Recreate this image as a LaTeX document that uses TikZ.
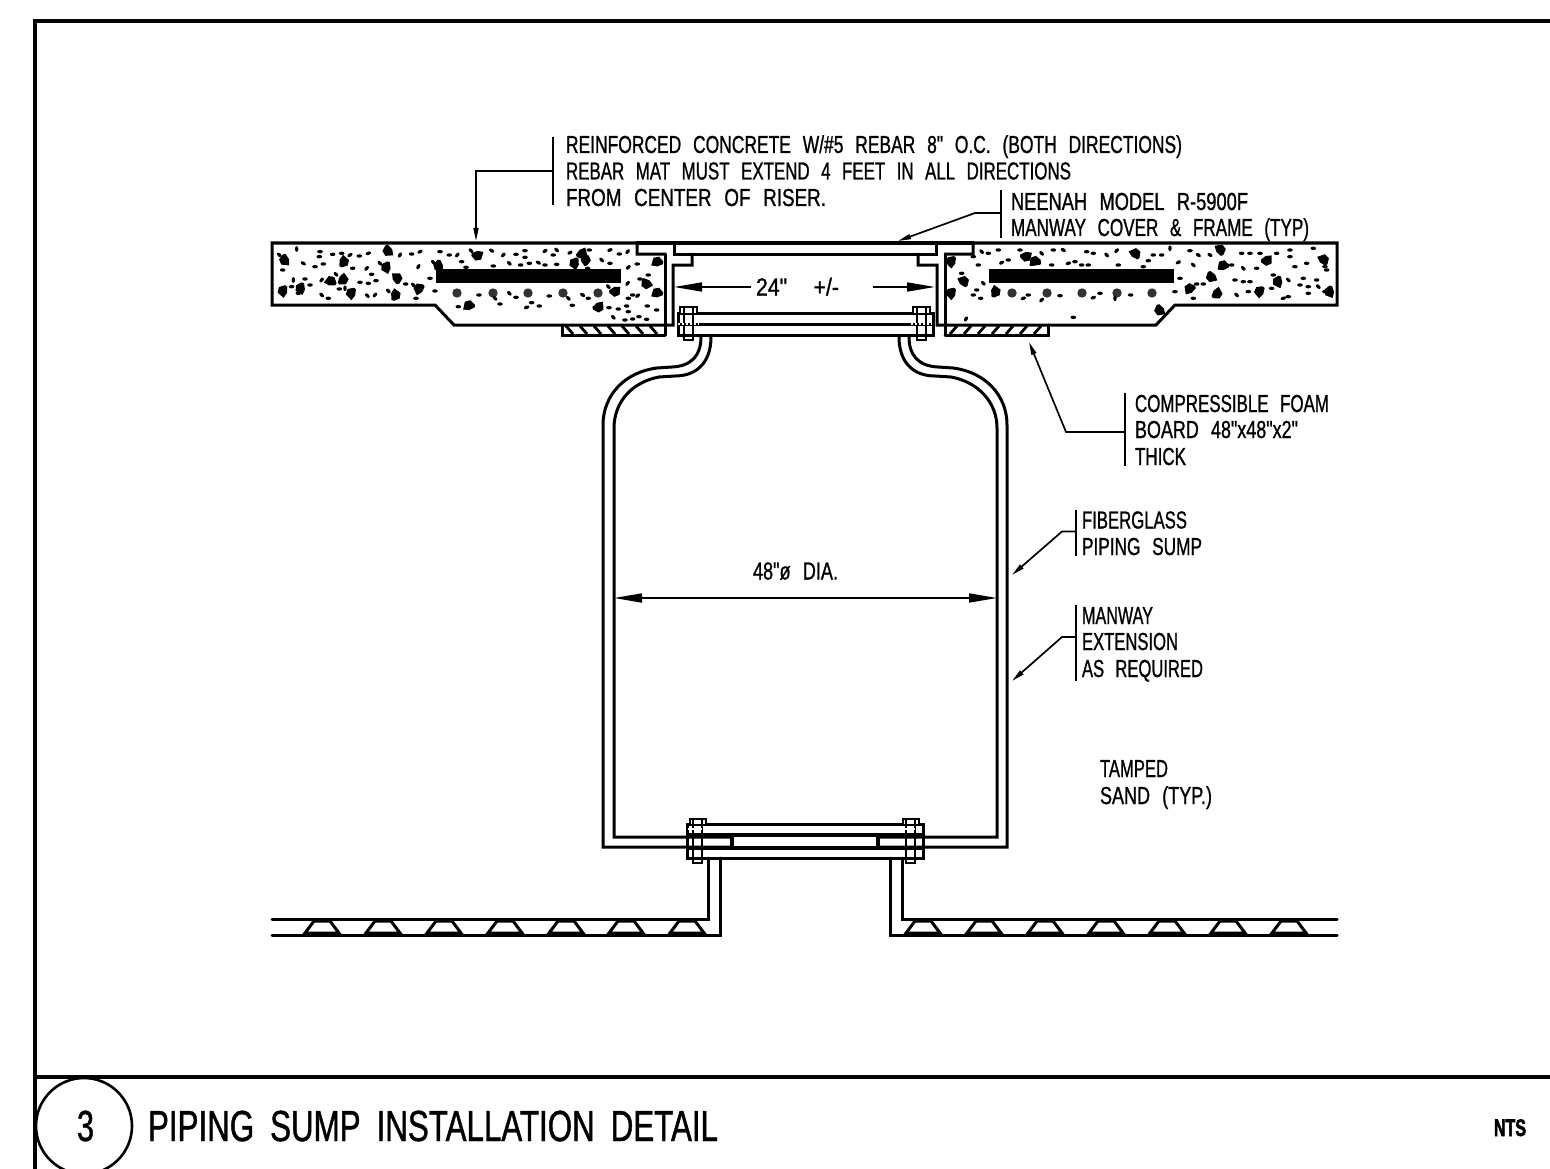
\documentclass[tikz,border=0pt]{standalone}
\usepackage{graphicx}
\usepackage{fontspec}
\usetikzlibrary{arrows.meta}
\newfontfamily\cadfont[FakeStretch=0.72,FakeBold=0.9]{Liberation Sans}
\newfontfamily\cadbigfont[FakeStretch=0.72,FakeBold=1.0]{Liberation Sans}
\newfontfamily\cadbold[FakeStretch=0.72,FakeBold=2.2]{Liberation Sans Bold}
\newcommand{\cad}[2]{\resizebox{#1pt}{\height}{\cadfont\fontsize{24.6}{25}\selectfont\spaceskip=12pt\relax #2}}
\newcommand{\cadbig}[2]{\resizebox{#1pt}{\height}{\cadbigfont\fontsize{43.5}{44}\selectfont\spaceskip=16pt\relax #2}}
\tikzset{
  cadtext/.style={anchor=base west,inner sep=0pt,outer sep=0pt},
  outl/.style={line width=3pt,line join=miter,line cap=round},
  thinl/.style={line width=1.7pt,line join=miter},
  frameline/.style={line width=4pt},
  barline/.style={line width=2.2pt},
  dimtip/.style={-{Triangle[length=28pt,width=9pt]},line width=1.7pt},
  leadtip/.style={-{Triangle[length=13pt,width=5pt]},line width=1.7pt},
}
% aggregate
\newcommand{\blobs}[1]{\foreach \x/\y/\a in {#1}{\fill[shift={(\x,\y)},rotate=\a] (0,0) ellipse [x radius=8.5,y radius=5.2];}}
\newcommand{\rocks}[1]{\foreach \x/\y in {#1}{\fill[shift={(\x,\y)},rotate=\x*7,scale=1.25,line join=round] (-13,-10) -- (6,-13) -- (14,-2) -- (8,12) -- (2,14) -- (-9,4) -- cycle;}}
\begin{document}
\begin{tikzpicture}[x=1pt,y=-1pt]
\useasboundingbox (0,0) rectangle (1550,1169);
\fill[white] (0,0) rectangle (1550,1169);
\clip (0,0) rectangle (1550,1169);

% frame
\draw[frameline] (1550,21) -- (35,21) -- (35,1169);
\draw[frameline] (35,1077) -- (1550,1077);
\draw[line width=2.6pt] (84,1126) circle [radius=48];

% slabs
\draw[outl] (665,254) -- (637,254) -- (637,243) -- (272,243) -- (272,305) -- (435,305) -- (454,325) -- (673,325) -- (673,265) -- (692,265) -- (692,254);
\draw[outl] (665,254) -- (665,335);
\draw[outl] (945,254) -- (973,254) -- (973,243) -- (1337,243) -- (1337,305) -- (1175,305) -- (1156,325) -- (937,325) -- (937,265) -- (918,265) -- (918,254);
\draw[outl] (945,254) -- (945,335);
% cover
\draw[outl] (637,243) -- (973,243);
\draw[outl] (674,243) -- (674,254) -- (936,254) -- (936,243);

% foam
\draw[outl] (665,335) -- (562,335) -- (562,325);
\draw[outl] (945,335) -- (1048,335) -- (1048,325);
\foreach \hx in {566,580,594,608,622,636,650}{\draw[line width=2.8pt] (\hx,326) -- (\hx+7,334);}
\foreach \hx in {950,964,978,992,1006,1020,1034}{\draw[line width=2.8pt] (\hx+7,326) -- (\hx,334);}

% rebar
\fill (436,269) rectangle (621,283);
\fill (989,269) rectangle (1174,283);
\foreach \cx in {457,493,528,563,598,1012,1047,1082,1117,1152}{\fill[black!80] (\cx,293) circle [radius=4.7];}

% aggregate, left slab
\begin{scope}[shift={(260,230)},x=0.3333pt,y=-0.3333pt]
\rocks{75/90,250/95,385/62,380/112,410/145,212/155,248/148,275/190,70/183,123/175,405/195,478/177,652/75,945/100,975/90,965/70,1192/97,1160/160,1192/190,1065/183,1015/230,627/228,537/107}
\blobs{110/57/90,58/75/-45,130/100/-30,68/120/0,165/110/0,190/102/0,180/65/0,178/80/0,218/73/0,245/70/0,270/75/30,298/78/0,325/70/20,360/100/-45,420/75/60,455/72/0,480/65/30,475/110/60,320/115/50,278/115/0,335/133/0,100/150/90,135/147/0,150/165/0,95/170/0,115/190/0,185/150/50,228/133/-45,300/157/0,325/160/0,348/152/0,437/162/0,460/165/-45,238/177/0,255/175/90,322/197/-45,345/195/50,205/205/0,185/195/-45,385/183/-45,468/205/0,510/145/0,525/183/0,520/97/-45,540/65/0,568/75/0,592/75/50,605/95/0,618/112/0,633/62/-45,695/62/-30,700/108/0,730/75/45,768/73/0,795/62/0,795/82/0,748/100/-45,782/105/0,808/100/0,835/98/-30,855/105/0,890/103/0,855/63/30,890/60/-45,880/75/0,930/68/30,988/60/0,1025/90/-45,1050/100/0,1050/60/20,1078/72/0,1103/65/50,1105/112/45,1132/102/0,1165/135/0,1140/147/0,1103/160/50,1118/195/0,1133/197/40,1105/205/0,1045/170/-45,657/195/0,705/205/-45,720/222/0,748/190/-45,768/202/0,868/198/0,925/205/-45,937/226/0,968/195/-30,985/205/0,595/230/0,800/232/20,815/218/0,838/228/0,1047/233/0,1075/237/0,1100/228/0,1105/245/0,1060/262/-45,1095/270/0,1118/267/0,1137/260/0,1160/268/0,1162/228/0,1190/240/0,983/115/0}
\end{scope}
% aggregate, right slab
\begin{scope}[shift={(860,230)},x=0.3333pt,y=-0.3333pt]
\rocks{275/95,310/155,275/190,405/185,498/78,525/95,825/72,1080/60,1220/90,1055/140,1255/155,1090/108,1390/90,990/177,1070/190,1200/185,1410/185,900/240}
\blobs{305/130/0,340/80/0,365/65/-45,385/70/0,415/60/0,355/105/0,370/160/-45,350/180/0,340/195/0,362/205/0,425/98/30,445/90/0,480/60/0,545/70/-45,580/60/0,610/60/-30,535/100/0,575/105/0,625/100/20,645/95/0,665/105/0,680/65/0,700/70/0,740/75/-45,770/62/45,685/105/0,775/105/0,850/110/0,865/92/0,880/75/0,905/75/0,930/55/90,955/97/30,990/62/0,1015/75/-30,1050/75/-30,1000/105/-45,960/145/0,945/185/0,1000/205/0,1010/162/0,1030/162/0,1115/105/0,1145/70/0,1170/70/0,1200/70/0,1250/70/0,1290/60/0,1290/80/0,1150/115/-45,1190/115/0,1125/150/0,1150/155/0,1170/155/0,1240/135/0,1285/150/-45,1330/145/0,1370/150/0,1320/165/0,1345/170/0,1375/170/-45,1345/190/0,1395/110/0,1400/120/0,1360/55/0,1130/195/-45,1165/185/0,1235/175/0,1270/205/20,1285/200/0,1305/110/0,1340/100/0,1395/185/0,490/205/20,505/195/0,545/210/45,600/197/0,700/203/20,720/190/0,765/205/90,812/195/0,640/262/0,318/267/60}
\end{scope}

% top flange
\draw[outl,fill=white] (678,313) rectangle (933,335);
\draw[outl] (678,324) -- (933,324);
\foreach \bx in {680,913}{
  \draw[barline,fill=white] (\bx,313) -- (\bx,307) -- (\bx+17,307) -- (\bx+17,313);
  \draw[line width=1.6pt] (\bx+4,307) -- (\bx+4,340) -- (\bx+13,340) -- (\bx+13,307);
  \draw[white,line width=1.2pt,dash pattern=on 2pt off 2pt] (\bx-2,324) -- (\bx+19,324);
}

% sump, outer and inner skins
\draw[outl] (701,337) .. controls (701,355) and (692,366) .. (672,367) -- (657,368) .. controls (625,372) and (603,395) .. (603,425) -- (603,847) -- (730,847);
\draw[outl] (711,337) .. controls (711,362) and (697,376) .. (675,376) -- (659,377) .. controls (632,382) and (614,402) .. (614,428) -- (614,837) -- (730,837);
\draw[outl] (909,337) .. controls (909,355) and (918,366) .. (938,367) -- (953,368) .. controls (985,372) and (1007,395) .. (1007,425) -- (1007,847) -- (880,847);
\draw[outl] (899,337) .. controls (899,362) and (913,376) .. (935,376) -- (951,377) .. controls (978,382) and (997,402) .. (997,428) -- (997,837) -- (880,837);

% bottom flange
\draw[outl] (687,824) rectangle (923,858);
\draw[line width=3.4pt] (687,835) -- (923,835);
\draw[line width=3.4pt] (687,848) -- (923,848);
\draw[line width=3.4pt] (732,835) -- (732,848);
\draw[line width=3.4pt] (878,835) -- (878,848);
\foreach \bx in {690,903}{
  \draw[barline,fill=white] (\bx,824) -- (\bx,819) -- (\bx+16,819) -- (\bx+16,824);
  \draw[line width=1.6pt] (\bx+3,819) -- (\bx+3,863) -- (\bx+12,863) -- (\bx+12,819);
  \draw[white,line width=1.2pt,dash pattern=on 2pt off 2pt] (\bx-2,829) -- (\bx+15,829);
}

% pipes
\draw[outl] (708,858) -- (708,919) -- (272,919);
\draw[outl] (720,858) -- (720,935) -- (272,935);
\draw[outl] (902,858) -- (902,919) -- (1337,919);
\draw[outl] (890,858) -- (890,935) -- (1337,935);
\foreach \tx in {322,383,444,505,566,626,687,923,984,1045,1106,1167,1228,1289}{
  \draw[line width=3pt,line join=miter] (\tx-17,933) -- (\tx-8,921) -- (\tx+8,921) -- (\tx+17,933) -- cycle;
}

% dimensions
\node[cadtext] (dimtop) at (756,295.5) {\cad{83}{24"\hspace{10pt} +/-}};
\coordinate (dimtopL) at (674,287);
\coordinate (dimtopR) at (935,287);
\coordinate (dimtopA) at (751,287);
\coordinate (dimtopB) at (873,287);
\draw[dimtip] (dimtopA) -- (dimtopL);
\draw[dimtip] (dimtopB) -- (dimtopR);
\node[cadtext] (dimdia) at (753,579.5) {\cad{85}{48"ø DIA.}};
\coordinate (diaL) at (614,598);
\coordinate (diaR) at (997,598);
\draw[{Triangle[length=28pt,width=9pt]}-{Triangle[length=28pt,width=9pt]},line width=1.7pt] (diaL) -- (diaR);

% notes
\node[cadtext] (n1a) at (566,153) {\cad{616}{REINFORCED CONCRETE W/\#5 REBAR 8" O.C. (BOTH DIRECTIONS)}};
\node[cadtext] (n1b) at (566,179.5) {\cad{505}{REBAR MAT MUST EXTEND 4 FEET IN ALL DIRECTIONS}};
\node[cadtext] (n1c) at (566,206) {\cad{260}{FROM CENTER OF RISER.}};
\draw[barline] (553,137) -- (553,205);
\coordinate (t1) at (476,241);
\coordinate (k1) at (476,171);
\coordinate (e1) at (553,171);
\draw[leadtip] (e1) -- (k1) -- (t1);

\node[cadtext] (n2a) at (1011,210) {\cad{237}{NEENAH MODEL R-5900F}};
\node[cadtext] (n2b) at (1011,236) {\cad{298}{MANWAY COVER \& FRAME (TYP)}};
\draw[barline] (1001,190) -- (1001,238);
\coordinate (t2) at (898,241);
\coordinate (k2) at (975,213);
\coordinate (e2) at (1001,213);
\draw[leadtip] (e2) -- (k2) -- (t2);

\node[cadtext] (n3a) at (1135,412) {\cad{194}{COMPRESSIBLE FOAM}};
\node[cadtext] (n3b) at (1135,438) {\cad{163}{BOARD 48"x48"x2"}};
\node[cadtext] (n3c) at (1135,465) {\cad{51}{THICK}};
\draw[barline] (1125,393) -- (1125,466);
\coordinate (t3) at (1029,342);
\coordinate (k3) at (1066,432);
\coordinate (e3) at (1125,432);
\draw[leadtip] (e3) -- (k3) -- (t3);

\node[cadtext] (n4a) at (1082,528.5) {\cad{105}{FIBERGLASS}};
\node[cadtext] (n4b) at (1082,555) {\cad{120}{PIPING SUMP}};
\draw[barline] (1076,510) -- (1076,556);
\coordinate (t4) at (1012,575);
\coordinate (k4) at (1062,531.5);
\coordinate (e4) at (1076,531.5);
\draw[leadtip] (e4) -- (k4) -- (t4);

\node[cadtext] (n5a) at (1082,624) {\cad{71}{MANWAY}};
\node[cadtext] (n5b) at (1082,650) {\cad{96}{EXTENSION}};
\node[cadtext] (n5c) at (1082,677) {\cad{121}{AS REQUIRED}};
\draw[barline] (1076,605) -- (1076,681);
\coordinate (t5) at (1012,681);
\coordinate (k5) at (1062,637);
\coordinate (e5) at (1076,637);
\draw[leadtip] (e5) -- (k5) -- (t5);

\node[cadtext] (n6a) at (1100,777) {\cad{68}{TAMPED}};
\node[cadtext] (n6b) at (1100,804) {\cad{112}{SAND (TYP.)}};

% title block
\node[cadtext] (num) at (77,1141) {\resizebox{17pt}{\height}{\cadbigfont\fontsize{43.5}{44}\selectfont 3}};
\node[cadtext] (title) at (148,1141) {\cadbig{570}{PIPING SUMP INSTALLATION DETAIL}};
\node[cadtext] (nts) at (1494,1136) {\resizebox{32pt}{\height}{\cadbold\fontsize{24}{24}\selectfont NTS}};
\end{tikzpicture}
\end{document}
